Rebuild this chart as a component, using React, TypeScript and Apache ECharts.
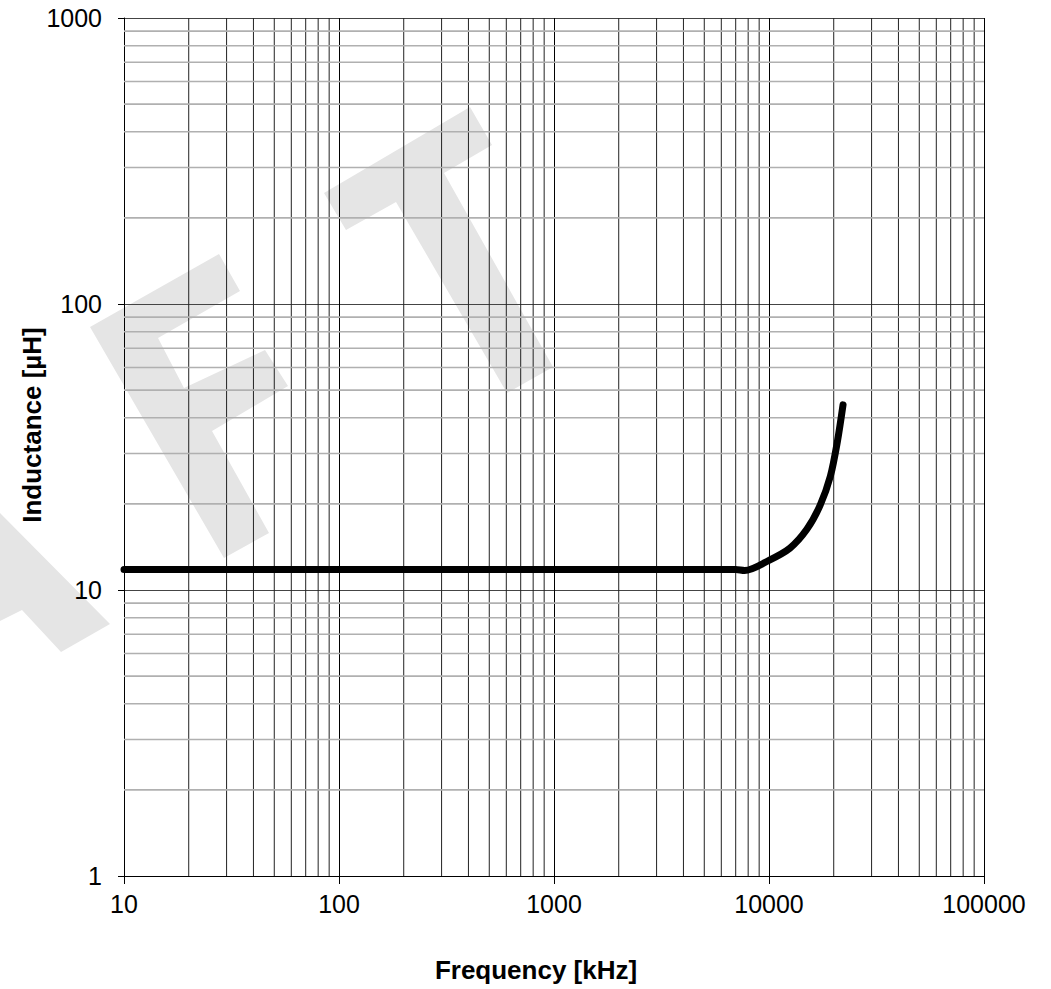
import React, { useEffect, useRef } from "react";
import * as echarts from "echarts";

const freqKHz = [10, 100, 1000, 7000, 7700, 10000, 12500, 15000, 17300, 19300, 20800, 22100];
const inductanceUH = [11.8, 11.8, 11.8, 11.8, 11.7, 12.7, 14.0, 16.3, 19.8, 25.0, 33.0, 44.4];

const xDecades = [10, 100, 1000, 10000];
const yDecades = [1, 10, 100];
const minorMultipliers = [2, 3, 4, 5, 6, 7, 8, 9];

const X_MIN = 10;
const X_MAX = 100000;
const Y_MIN = 1;
const Y_MAX = 1000;

const xTitle = "Frequency [kHz]";
const yTitle = "Inductance [µH]";

const FONT = '"Liberation Sans", Arial, Helvetica, sans-serif';

export default function App() {
  const ref = useRef<HTMLDivElement>(null);

  useEffect(() => {
    if (!ref.current) return;
    const chart = echarts.init(ref.current, undefined, { renderer: "svg" });

    const gridSeries: any[] = [];
    xDecades.forEach((d) => {
      minorMultipliers.forEach((m) => {
        const x = d * m;
        gridSeries.push({
          type: "line",
          data: [
            [x, Y_MIN],
            [x, Y_MAX],
          ],
          symbol: "none",
          silent: true,
          z: 1,
          lineStyle: { color: "#222", width: 1 },
        });
      });
    });
    yDecades.forEach((d) => {
      minorMultipliers.forEach((m) => {
        const y = d * m;
        gridSeries.push({
          type: "line",
          data: [
            [X_MIN, y],
            [X_MAX, y],
          ],
          symbol: "none",
          silent: true,
          z: 1,
          lineStyle: { color: "#b0b0b0", width: 1.6 },
        });
      });
    });

    const fmt = (v: number) => String(Math.round(v));

    chart.setOption({
      animation: false,
      backgroundColor: "#ffffff",
      grid: { left: 124, top: 18, right: 67, bottom: 113, containLabel: false },
      xAxis: {
        type: "log",
        logBase: 10,
        min: X_MIN,
        max: X_MAX,
        axisLine: { show: true, onZero: false, lineStyle: { color: "#000", width: 1 } },
        axisTick: { show: true, inside: false, length: 8, lineStyle: { color: "#000", width: 1 } },
        axisLabel: {
          color: "#000",
          fontSize: 25,
          fontFamily: FONT,
          margin: 15,
          formatter: fmt,
        },
        splitLine: { show: true, lineStyle: { color: "#000", width: 1 } },
      },
      yAxis: {
        type: "log",
        logBase: 10,
        min: Y_MIN,
        max: Y_MAX,
        axisLine: { show: true, onZero: false, lineStyle: { color: "#000", width: 1 } },
        axisTick: { show: true, inside: false, length: 6, lineStyle: { color: "#000", width: 1 } },
        axisLabel: {
          color: "#000",
          fontSize: 25,
          fontFamily: FONT,
          margin: 22,
          formatter: fmt,
        },
        splitLine: { show: true, lineStyle: { color: "#444", width: 1 } },
      },
      graphic: [
        {
          type: "polygon",
          z: -10,
          silent: true,
          shape: {
            points: [
              [324, 193],
              [470, 107],
              [492, 145],
              [444, 173],
              [553, 367],
              [507, 393],
              [396, 202],
              [346, 230],
            ],
          },
          style: { fill: "#e5e5e5" },
        },
        {
          type: "polygon",
          z: -10,
          silent: true,
          shape: {
            points: [
              [90, 327],
              [219, 254],
              [240, 291],
              [158, 338],
              [184, 388],
              [265, 350],
              [288, 386],
              [212, 431],
              [269, 533],
              [224, 558],
            ],
          },
          style: { fill: "#e5e5e5" },
        },
        {
          type: "polygon",
          z: -10,
          silent: true,
          shape: {
            points: [
              [-40, 470],
              [0, 513],
              [110, 624],
              [61, 652],
              [22, 610],
              [-10, 626],
            ],
          },
          style: { fill: "#e5e5e5" },
        },
        {
          type: "text",
          x: 536,
          y: 970,
          silent: true,
          style: {
            text: xTitle,
            fill: "#000",
            font: `bold 26px ${FONT}`,
            textAlign: "center",
            textVerticalAlign: "middle",
          },
        },
        {
          type: "text",
          x: 32,
          y: 425,
          rotation: Math.PI / 2,
          silent: true,
          style: {
            text: yTitle,
            fill: "#000",
            font: `bold 26px ${FONT}`,
            textAlign: "center",
            textVerticalAlign: "middle",
          },
        },
      ],
      series: [
        ...gridSeries,
        {
          type: "line",
          name: "Inductance",
          data: freqKHz.map((f, i) => [f, inductanceUH[i]]),
          symbol: "none",
          smooth: 0.3,
          z: 5,
          lineStyle: { color: "#000", width: 7, cap: "round", join: "round" },
        },
      ],
    });

    return () => {
      chart.dispose();
    };
  }, []);

  return (
    <div
      ref={ref}
      style={{ position: "absolute", left: 0, top: 0, width: 1051, height: 989 }}
    />
  );
}
